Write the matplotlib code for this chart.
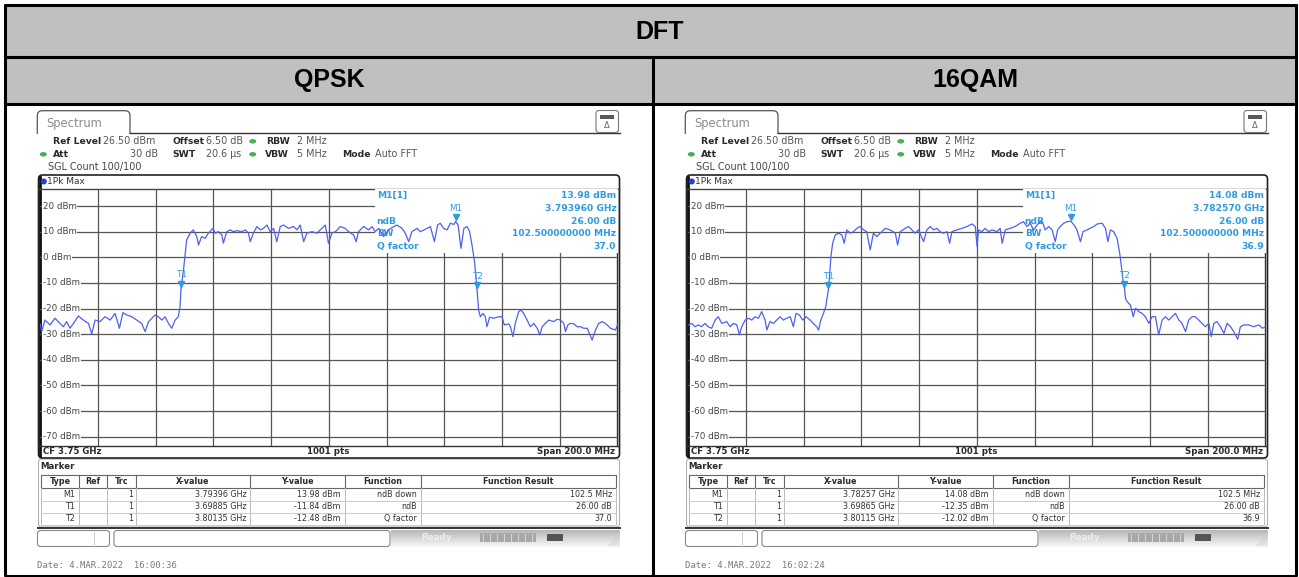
import numpy as np
import matplotlib.pyplot as plt
from matplotlib.patches import Rectangle, FancyBboxPatch, Ellipse, Circle

W, H = 1299, 577
plt.rcParams['font.family'] = ['DejaVu Sans']

# table headings
main_title = "DFT"
panel_titles = ["QPSK", "16QAM"]

# analyzer settings (same on both screens)
span_mhz = 200.0
ref_level = 26.5
level_ticks = [20, 10, 0, -10, -20, -30, -40, -50, -60, -70]

# trace: MHz from span start (3.65 GHz), level in dBm
qpsk_freq = [0.0, 0.6, 1.7, 3.5, 5.2, 6.9, 8.1, 9.2, 10.4, 11.6, 13.3, 15.0, 16.8, 17.9, 19.1,
             20.8, 22.5, 24.3, 26.0, 27.5, 28.7, 30.0, 31.8, 33.5, 35.2, 36.4, 37.6, 39.9, 41.0,
             42.2, 43.3, 44.5, 45.6, 46.8, 47.9, 48.5, 48.85, 49.7, 50.3, 50.8, 52.0, 53.1, 54.3,
             54.9, 56.0, 57.2, 58.3, 59.9, 60.7, 61.8, 63.0, 63.5, 64.7, 65.9, 67.0, 68.2, 69.9,
             71.1, 72.2, 72.8, 73.9, 75.1, 76.3, 77.4, 78.6, 79.7, 80.9, 82.0, 83.2, 84.3, 86.1,
             87.8, 89.0, 90.1, 91.3, 92.4, 94.2, 95.9, 97.6, 98.8, 99.9, 101.1, 102.3, 104.0,
             105.7, 106.9, 108.6, 109.5, 110.3, 112.1, 113.8, 115.0, 116.1, 117.3, 119.0, 120.7,
             122.5, 123.6, 125.4, 126.5, 127.7, 128.8, 130.6, 131.7, 133.4, 135.2, 136.6, 137.7,
             138.6, 139.8, 141.0, 142.1, 143.3, 143.96, 144.8, 145.8, 146.8, 147.9, 148.8, 149.6,
             150.4, 151.0, 151.35, 151.9, 152.5, 153.4, 154.2, 154.8, 155.7, 157.1, 158.9, 160.0,
             160.8, 162.3, 162.9, 163.8, 164.6, 165.8, 166.6, 167.5, 168.7, 169.8, 171.0, 172.2,
             173.1, 173.9, 175.0, 176.2, 177.9, 179.1, 180.2, 181.4, 182.0, 182.8, 183.7, 184.9,
             186.0, 187.2, 188.3, 189.5, 191.2, 192.4, 193.5, 194.7, 195.8, 197.6, 199.3, 200.0]
qpsk_level = [-26.0, -29.0, -24.5, -26.4, -23.8, -25.8, -27.1, -25.1, -27.7, -25.8, -22.9, -24.5,
              -25.8, -29.9, -24.5, -25.1, -23.2, -24.5, -21.9, -27.7, -21.6, -22.5, -23.2, -24.5,
              -25.8, -29.0, -25.1, -22.5, -23.2, -24.5, -23.2, -25.8, -27.7, -24.5, -23.2, -19.3,
              -11.84, -4.9, 1.6, 6.8, 9.4, 10.7, 8.1, 4.8, 8.1, 7.4, 9.4, 11.3, 9.4, 10.0, 8.7,
              5.5, 10.0, 10.7, 10.0, 10.4, 10.0, 10.7, 9.4, 6.1, 9.4, 12.0, 10.7, 11.3, 12.6, 10.0,
              11.3, 6.1, 12.0, 12.6, 11.3, 12.0, 10.7, 12.6, 6.1, 9.4, 10.0, 9.4, 11.3, 12.6, 5.5,
              9.4, 10.0, 12.0, 11.3, 10.0, 8.7, 6.1, 10.0, 12.0, 10.7, 12.0, 10.0, 11.3, 8.1, 10.7,
              12.0, 12.6, 11.3, 9.4, 6.1, 10.0, 11.3, 10.0, 10.9, 12.0, 6.1, 12.6, 13.3, 11.3,
              10.7, 13.3, 12.8, 13.98, 12.6, 3.5, 11.3, 12.0, 10.0, 4.8, -1.0, -7.6, -12.48,
              -20.6, -23.2, -21.9, -23.2, -27.1, -23.4, -23.8, -23.2, -23.2, -26.4, -26.0, -27.1,
              -31.0, -25.8, -21.2, -20.6, -21.9, -24.5, -27.1, -25.8, -27.7, -30.3, -27.1, -25.8,
              -24.5, -25.1, -24.2, -24.5, -25.8, -29.0, -26.4, -25.8, -26.0, -27.1, -27.1, -27.7,
              -27.7, -32.3, -28.4, -25.8, -25.1, -25.8, -27.7, -28.4, -26.4]

# trace
qam_freq = [0.1, 1.3, 2.4, 3.6, 4.7, 5.9, 7.0, 8.2, 9.4, 10.5, 11.7, 13.4, 14.6, 15.7, 16.9, 17.8,
            18.6, 19.8, 20.9, 22.1, 23.2, 24.4, 25.5, 26.7, 27.3, 28.4, 29.6, 30.7, 31.9, 33.0,
            34.2, 35.4, 36.5, 37.4, 38.6, 39.7, 40.9, 42.3, 43.4, 44.6, 45.2, 46.0, 46.9, 47.7,
            48.65, 49.0, 49.5, 50.1, 51.0, 52.1, 53.3, 54.1, 55.0, 56.2, 57.3, 58.5, 59.6, 60.8,
            61.9, 63.1, 64.2, 65.4, 66.6, 68.3, 70.0, 71.8, 72.6, 73.5, 75.2, 76.4, 77.5, 78.7,
            79.8, 81.6, 82.7, 83.9, 85.0, 86.2, 87.3, 88.5, 89.7, 90.6, 91.4, 93.1, 94.9, 96.6,
            98.3, 99.5, 100.1, 100.6, 101.8, 102.9, 104.1, 105.3, 107.0, 108.1, 108.8, 109.9,
            111.6, 113.3, 115.1, 116.2, 117.4, 118.5, 119.7, 120.9, 122.0, 122.9, 123.7, 124.9,
            126.1, 127.2, 128.0, 128.9, 130.1, 131.3, 132.57, 133.7, 134.7, 135.9, 136.8, 138.2,
            139.3, 140.5, 141.7, 143.4, 144.6, 145.4, 146.3, 147.4, 148.6, 149.5, 150.1, 150.6,
            151.15, 151.5, 152.1, 153.2, 154.2, 155.0, 156.1, 157.3, 158.4, 159.6, 160.7, 161.9,
            163.0, 164.2, 165.3, 166.5, 167.6, 168.8, 170.0, 171.1, 172.3, 173.4, 174.6, 175.7,
            176.9, 178.0, 179.2, 180.4, 181.2, 182.1, 183.2, 184.4, 185.6, 186.7, 187.9, 189.0,
            190.4, 191.3, 192.5, 194.2, 195.9, 197.7, 198.9, 200.0]
qam_level = [-26.4, -25.8, -27.1, -26.4, -27.1, -25.8, -27.1, -27.7, -24.5, -23.2, -25.8, -25.1,
             -27.1, -25.8, -26.4, -30.3, -27.1, -24.5, -23.8, -24.5, -23.2, -23.8, -21.2, -24.5,
             -28.4, -25.1, -25.8, -24.5, -23.2, -24.5, -23.8, -23.2, -27.1, -21.9, -22.5, -24.5,
             -23.2, -24.5, -25.8, -27.1, -28.4, -24.5, -21.9, -19.3, -12.35, -7.6, 0.3, 5.5, 8.7,
             9.4, 8.7, 5.5, 10.7, 9.4, 10.0, 11.3, 12.0, 10.7, 10.0, 2.9, 9.4, 8.1, 9.4, 11.3,
             10.7, 9.4, 4.8, 10.0, 11.3, 12.0, 10.7, 9.4, 10.7, 6.1, 10.7, 12.0, 10.7, 11.3, 10.0,
             9.4, 10.0, 5.5, 10.0, 10.7, 11.3, 12.0, 13.0, 12.0, 4.2, 10.7, 10.0, 11.3, 10.0, 10.7,
             10.0, 11.3, 5.5, 10.7, 11.3, 12.0, 13.3, 13.9, 12.0, 13.3, 10.7, 12.6, 13.9, 13.3,
             10.7, 12.0, 10.7, 6.1, 10.7, 12.0, 13.3, 13.9, 14.08, 12.6, 10.7, 6.1, 10.0, 10.7,
             11.3, 12.0, 13.0, 13.3, 11.3, 6.1, 10.7, 10.0, 7.4, 1.6, -3.6, -8.5, -12.02, -16.0,
             -17.3, -18.6, -23.2, -19.9, -21.2, -21.9, -23.2, -25.8, -23.2, -23.2, -30.3, -24.5,
             -23.2, -24.5, -23.2, -21.9, -24.5, -25.8, -29.0, -24.5, -23.2, -23.2, -24.5, -25.8,
             -27.1, -25.8, -31.0, -25.8, -25.1, -27.1, -29.7, -25.8, -27.1, -29.0, -32.0, -27.1,
             -26.4, -26.4, -27.1, -26.4, -27.7, -27.1]

# marker table: name, x-value (GHz), y-value (dBm), function, function result
qpsk_markers = [("M1", 3.79396, 13.98, "ndB down", "102.5 MHz"),
                ("T1", 3.69885, -11.84, "ndB", "26.00 dB"),
                ("T2", 3.80135, -12.48, "Q factor", "37.0")]
qam_markers = [("M1", 3.78257, 14.08, "ndB down", "102.5 MHz"),
               ("T1", 3.69865, -12.35, "ndB", "26.00 dB"),
               ("T2", 3.80115, -12.02, "Q factor", "36.9")]
qpsk_info = ["13.98 dBm", "3.793960 GHz", "26.00 dB", "102.500000000 MHz", "37.0"]
qam_info = ["14.08 dBm", "3.782570 GHz", "26.00 dB", "102.500000000 MHz", "36.9"]
info_labels = ["M1[1]", "", "ndB", "BW", "Q factor"]
dates = ["Date: 4.MAR.2022  16:00:36", "Date: 4.MAR.2022  16:02:24"]

TRACE = '#4f5ff0'
MKR = '#2d9be2'
GRID = '#555555'
TXT = '#2a2a2a'

fig = plt.figure(figsize=(W / 100, H / 100), dpi=100)
bg = fig.add_axes([0, 0, 1, 1])
bg.set_xlim(0, W)
bg.set_ylim(H, 0)
bg.axis('off')

# ---- outer table ----
bg.add_patch(Rectangle((5, 5), 1292, 98, fc='#c0c0c0', ec='none'))
for y in (5, 56.5, 103.5, 575.5):
    bg.plot([4, 1297], [y, y], color='black', lw=2.2, solid_capstyle='butt')
for x, y0 in ((5, 4), (1296, 4), (653, 56.5)):
    bg.plot([x, x], [y0, 576], color='black', lw=2.2, solid_capstyle='butt')
bg.text(660, 32, main_title, ha='center', va='center', fontsize=18, weight='bold',
        family='Liberation Sans')
bg.text(329, 80, panel_titles[0], ha='center', va='center', fontsize=18, weight='bold',
        family='Liberation Sans')
bg.text(975, 80, panel_titles[1], ha='center', va='center', fontsize=18, weight='bold',
        family='Liberation Sans')


def draw_panel(dx, freqs, levels, markers, info, date):
    t = lambda x, y, s, **kw: bg.text(x + dx, y, s, va='center', color=kw.pop('color', TXT), **kw)

    # tab + baseline
    bg.add_patch(FancyBboxPatch((37.3 + dx, 110.7), 92.7, 30, boxstyle='round,pad=0,rounding_size=5',
                                ec='#555555', fc='white', lw=0.9, zorder=2))
    bg.add_patch(Rectangle((35 + dx, 133.8), 100, 8, fc='white', ec='none', zorder=3))
    bg.plot([130 + dx, 620 + dx], [133.3, 133.3], color='#333333', lw=1.0, zorder=4)
    t(46, 123.3, "Spectrum", fontsize=8.3, color='#8a8a8a', zorder=4)

    # small icon in the corner
    bg.add_patch(FancyBboxPatch((596 + dx, 110.5), 22.5, 22, boxstyle='round,pad=0,rounding_size=3',
                                ec='#777777', fc='white', lw=0.8, zorder=4))
    bg.add_patch(Rectangle((600 + dx, 115), 14.5, 3.5, fc='#5a5a5a', ec='none', zorder=5))
    t(607.3, 125.5, "\u0394", fontsize=6, ha='center', color='#666666', zorder=5)

    # settings lines
    b = dict(fontsize=6.7, weight='bold')
    n = dict(fontsize=6.9)
    t(52.7, 141.3, "Ref Level", **b)
    t(102.7, 141.3, "26.50 dBm", color='#555555', **n)
    t(172.7, 141.3, "Offset", **b)
    t(206.5, 141.3, "6.50 dB", color='#555555', **n)
    t(266, 141.3, "RBW", **b)
    t(296.7, 141.3, "2 MHz", color='#555555', **n)
    t(52.7, 154.3, "Att", **b)
    t(157.7, 154.3, "30 dB", ha='right', color='#555555', **n)
    t(172.7, 154.3, "SWT", **b)
    t(206.5, 154.3, "20.6 \u00b5s", color='#555555', **n)
    t(265, 154.3, "VBW", **b)
    t(296.7, 154.3, "5 MHz", color='#555555', **n)
    t(341.7, 154.3, "Mode", **b)
    t(375, 154.3, "Auto FFT", color='#555555', **n)
    t(48.3, 166.7, "SGL Count 100/100", color='#444444', **n)
    for x, y in ((252.7, 141.3), (252.7, 154.3), (43.3, 154.3)):
        bg.add_patch(Ellipse((x + dx, y), 7, 4.5, fc='#4cae4f', ec='none'))

    # screen frame
    bg.add_patch(FancyBboxPatch((38.5 + dx, 175), 581, 283, boxstyle='round,pad=0,rounding_size=4',
                                ec='#222222', fc='none', lw=1.2, zorder=4))
    bg.plot([39.6 + dx, 39.6 + dx], [177, 456], color='#111111', lw=2.0, zorder=4)
    bg.plot([39 + dx, 619 + dx], [189.4, 189.4], color='#444444', lw=1.0, zorder=4)
    bg.plot([39 + dx, 619 + dx], [445.6, 445.6], color='#333333', lw=1.0, zorder=4)
    bg.plot([617.5 + dx, 617.5 + dx], [189.4, 445.6], color='#333333', lw=1.0, zorder=4)
    bg.add_patch(Circle((43.8 + dx, 181.5), 3, fc='#1f3fd8', ec='none', zorder=5))
    t(47.5, 181.5, "1Pk Max", fontsize=6.5, color='#333333', zorder=5)

    # CF / pts / span line
    cb = dict(fontsize=6.2, weight='bold', zorder=5)
    t(43, 451.8, "CF 3.75 GHz", **cb)
    t(328, 451.8, "1001 pts", ha='center', **cb)
    t(615, 451.8, "Span 200.0 MHz", ha='right', **cb)

    # trace diagram
    ax = fig.add_axes([(40 + dx) / W, 1 - 445.6 / H, 577.5 / W, 256.2 / H])
    ax.set_facecolor('none')
    ax.set_xlim(0, span_mhz)
    ax.set_ylim(ref_level - 100, ref_level)
    ax.set_xticks([])
    ax.set_yticks([])
    for s in ax.spines.values():
        s.set_visible(False)
    for lv in level_ticks:
        ax.axhline(lv, color=GRID, lw=0.9, zorder=1)
    for i in range(1, 10):
        ax.axvline(i * span_mhz / 10, color=GRID, lw=0.9, zorder=1)
    ax.add_patch(Rectangle((116, 1.6), 90, 30, fc='white', ec='none', zorder=2))
    for lv in level_ticks:
        ax.text(1.0, lv, f"{lv} dBm", ha='left', va='center', fontsize=6.3, color='#444444',
                bbox=dict(fc='white', ec='none', pad=0.5), zorder=2.2)
    info_y = [24.0, 19.1, 14.1, 9.4, 4.3]
    for lab, val, y in zip(info_labels, info, info_y):
        ax.text(116.6, y, lab, ha='left', va='center', fontsize=6.6, weight='bold', color=MKR, zorder=2.5)
        ax.text(199.6, y, val, ha='right', va='center', fontsize=6.6, weight='bold', color=MKR, zorder=2.5)
    ax.plot(freqs, levels, color=TRACE, lw=0.9, zorder=3)
    for name, xg, yv, _, _ in markers:
        f = xg * 1000 - 3650
        ax.plot(f, yv + 1.6, marker='v', ms=4.2, color=MKR, zorder=4, clip_on=False)
        ax.text(f, yv + 5.0, name, ha='center', va='center', fontsize=6.3, color=MKR, zorder=4)

    # marker table
    bg.add_patch(FancyBboxPatch((38.5 + dx, 459), 581, 68, boxstyle='round,pad=0,rounding_size=3',
                                ec='#b0b0b0', fc='white', lw=0.8))
    bg.plot([38.5 + dx, 620 + dx], [527.5, 527.5], color='#333333', lw=1.4)
    t(40.5, 466.7, "Marker", fontsize=6.2, weight='bold')
    cols = [41, 79, 107, 136, 250, 345, 421, 616]
    heads = ["Type", "Ref", "Trc", "X-value", "Y-value", "Function", "Function Result"]
    bg.add_patch(Rectangle((cols[0] + dx, 474.5), cols[-1] - cols[0], 13.8, fc='white', ec='#666666', lw=0.8))
    for c in cols[1:-1]:
        bg.plot([c + dx, c + dx], [474.5, 488.3], color='#666666', lw=0.8)
        bg.plot([c + dx, c + dx], [488.3, 525], color='#bbbbbb', lw=0.7)
    for c in (cols[0], cols[-1]):
        bg.plot([c + dx, c + dx], [488.3, 525], color='#bbbbbb', lw=0.7)
    for y in (501, 512.8, 525):
        bg.plot([cols[0] + dx, cols[-1] + dx], [y, y], color='#cccccc', lw=0.7)
    for i, h in enumerate(heads):
        t((cols[i] + cols[i + 1]) / 2, 481.5, h, ha='center', fontsize=5.8, weight='bold')
    row_y = [494.8, 506.8, 518.9]
    rs = dict(fontsize=5.8, ha='right', color='#333333')
    for (name, xg, yv, fn, res), y in zip(markers, row_y):
        t(cols[1] - 4, y, name, **rs)
        t(cols[3] - 3, y, "1", **rs)
        t(cols[4] - 3, y, f"{xg:.5f} GHz", **rs)
        t(cols[5] - 4, y, f"{yv:.2f} dBm", **rs)
        t(cols[6] - 4, y, fn, **rs)
        t(cols[7] - 4, y, res, **rs)

    # status bar
    bg.add_patch(FancyBboxPatch((37.5 + dx, 530.5), 72, 16, boxstyle='round,pad=0,rounding_size=3',
                                ec='#888888', fc='white', lw=0.8))
    bg.plot([94 + dx, 94 + dx], [531.5, 545.5], color='#cccccc', lw=0.7)
    bg.add_patch(FancyBboxPatch((114 + dx, 530.5), 276, 16, boxstyle='round,pad=0,rounding_size=3',
                                ec='#888888', fc='white', lw=0.8))
    grad = np.linspace(0.72, 0.97, 16).reshape(-1, 1)
    bg.imshow(grad, extent=(391 + dx, 620 + dx, 547, 530), cmap='gray', vmin=0, vmax=1,
              aspect='auto', interpolation='bilinear', zorder=0.5)
    t(437, 537.5, "Ready", fontsize=6.3, weight='bold', color='#eeeeee', ha='center')
    bg.add_patch(Rectangle((480 + dx, 533), 56, 9, fc='#a8a8a8', ec='none'))
    for k in range(8):
        bg.plot([483 + dx + k * 7, 483 + dx + k * 7], [533.5, 541.5], color='#d8d8d8', lw=0.7)
    bg.add_patch(Rectangle((547 + dx, 533.5), 16, 7, fc='#555555', ec='none'))
    for k in range(4):
        bg.plot([608 + dx + k * 3, 619 + dx], [546, 535 + k * 3], color='#cfcfcf', lw=0.6)

    t(37, 565, date, fontsize=6.5, family='DejaVu Sans Mono', color='#7a7a7a')


draw_panel(0, qpsk_freq, qpsk_level, qpsk_markers, qpsk_info, dates[0])
draw_panel(648, qam_freq, qam_level, qam_markers, qam_info, dates[1])
bg.set_xlim(0, W)
bg.set_ylim(H, 0)

fig.savefig('out.png', dpi=100)
